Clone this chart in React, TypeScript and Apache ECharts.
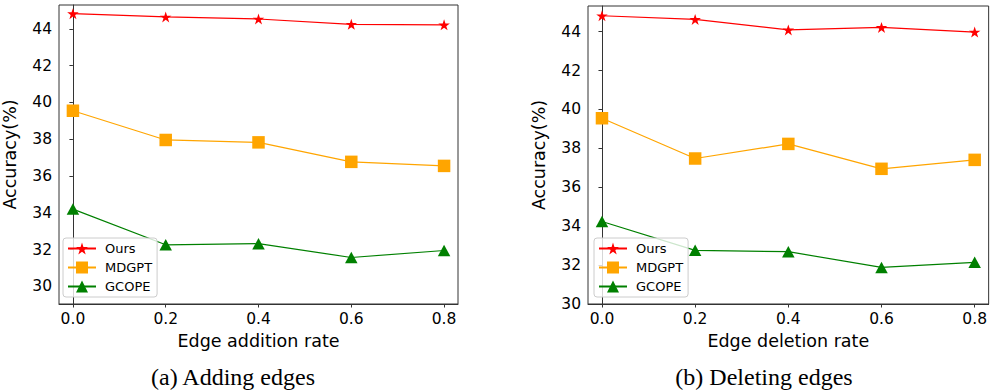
import React, { useEffect, useRef } from "react";
import * as echarts from "echarts";

const rates = [0.0, 0.2, 0.4, 0.6, 0.8];
const xTicks = [0.0, 0.2, 0.4, 0.6, 0.8];
const yTicks = [30, 32, 34, 36, 38, 40, 42, 44];
const seriesNames = ["Ours", "MDGPT", "GCOPE"];

const addOurs = [44.83, 44.65, 44.54, 44.25, 44.22];
const addMDGPT = [39.55, 37.96, 37.83, 36.77, 36.55];
const addGCOPE = [34.2, 32.26, 32.32, 31.57, 31.95];

const delOurs = [44.82, 44.63, 44.09, 44.22, 43.98];
const delMDGPT = [39.55, 37.48, 38.23, 36.95, 37.41];
const delGCOPE = [34.24, 32.76, 32.69, 31.88, 32.14];

const xTitles = ["Edge addition rate", "Edge deletion rate"];
const captions = ["(a) Adding edges", "(b) Deleting edges"];
const yTitle = "Accuracy(%)";

const STAR =
  "path://M50,0 L61.2,34.5 L97.6,34.5 L68.2,55.9 L79.4,90.5 L50,69.1 L20.6,90.5 L31.8,55.9 L2.4,34.5 L38.8,34.5 Z";

const colors = ["#ff0000", "#ffa500", "#008000"];
const symbols = [STAR, "rect", "triangle"];
const symbolSizes: any[] = [[11.5, 11], 12.5, [12.5, 11.5]];

const FONT = "DejaVu Sans";

export default function App() {
  const ref = useRef<HTMLDivElement>(null);
  useEffect(() => {
    if (!ref.current) return;
    const chart = echarts.init(ref.current, null, { renderer: "svg" });

    const grids = [
      { left: 57, top: 5, width: 401, height: 299 },
      { left: 588, top: 6, width: 401, height: 298 },
    ];
    const yRanges = [
      [29.04, 45.3],
      [30.0, 45.32],
    ];
    const panels = [
      [addOurs, addMDGPT, addGCOPE],
      [delOurs, delMDGPT, delGCOPE],
    ];

    const series: any[] = [];
    panels.forEach((vals, gi) => {
      vals.forEach((arr, si) => {
        series.push({
          name: seriesNames[si],
          type: "line",
          xAxisIndex: gi,
          yAxisIndex: gi,
          data: rates.map((r, i) => [r, arr[i]]),
          symbol: symbols[si],
          symbolSize: symbolSizes[si],
          showAllSymbol: true,
          lineStyle: { color: colors[si], width: 1.2 },
          itemStyle: { color: colors[si] },
          emphasis: { disabled: true },
          z: 3 - si,
        });
      });
    });

    const option: any = {
      animation: false,
      grid: grids.map((g) => ({
        ...g,
        show: true,
        borderColor: "#333",
        borderWidth: 1,
        backgroundColor: "transparent",
      })),
      xAxis: grids.map((g, gi) => ({
        type: "value",
        gridIndex: gi,
        min: -0.03,
        max: 0.83,
        name: xTitles[gi],
        nameLocation: "middle",
        nameGap: 24,
        nameTextStyle: { fontFamily: FONT, fontSize: 17.5, color: "#000" },
        axisLine: { show: true, lineStyle: { color: "#333", width: 1 } },
        axisTick: {
          show: true,
          length: 3.5,
          customValues: xTicks,
          lineStyle: { color: "#333" },
        },
        axisLabel: {
          customValues: xTicks,
          margin: 7,
          fontFamily: FONT,
          fontSize: 15.5,
          color: "#000",
          formatter: (v: number) => v.toFixed(1),
        },
        splitLine: { show: false },
      })),
      yAxis: grids.map((g, gi) => ({
        type: "value",
        gridIndex: gi,
        min: yRanges[gi][0],
        max: yRanges[gi][1],
        name: yTitle,
        nameLocation: "middle",
        nameRotate: 90,
        nameGap: 40,
        nameTextStyle: { fontFamily: FONT, fontSize: 17.5, color: "#000" },
        axisLine: { show: true, lineStyle: { color: "#333", width: 1 } },
        axisTick: {
          show: true,
          length: 3.5,
          customValues: yTicks,
          lineStyle: { color: "#333" },
        },
        axisLabel: {
          customValues: yTicks,
          margin: 7,
          fontFamily: FONT,
          fontSize: 15.5,
          color: "#000",
          formatter: (v: number) => String(Math.round(v)),
        },
        splitLine: { show: false },
      })),
      legend: [
        { left: 63, top: 238 },
        { left: 594, top: 238 },
      ].map((p) => ({
        ...p,
        orient: "vertical",
        data: seriesNames,
        itemWidth: 28,
        itemHeight: 15,
        itemGap: 4,
        padding: [3, 5, 3, 4],
        borderColor: "#cccccc",
        borderWidth: 1,
        borderRadius: 3,
        backgroundColor: "rgba(255,255,255,0.8)",
        selectedMode: false,
        textStyle: {
          fontFamily: FONT,
          fontSize: 13,
          color: "#000",
          lineHeight: 15,
          padding: [0, 0, 0, 4],
        },
      })),
      graphic: captions.map((c, i) => ({
        type: "text",
        x: i === 0 ? 233 : 764,
        y: 377,
        style: {
          text: c,
          fill: "#000",
          font: '24px "Liberation Serif"',
          textAlign: "center",
          textVerticalAlign: "middle",
        },
      })),
      series,
    };

    chart.setOption(option);
    return () => chart.dispose();
  }, []);

  return (
    <div
      ref={ref}
      style={{
        position: "absolute",
        left: 0,
        top: 0,
        width: 990,
        height: 390,
        background: "#fff",
      }}
    />
  );
}
